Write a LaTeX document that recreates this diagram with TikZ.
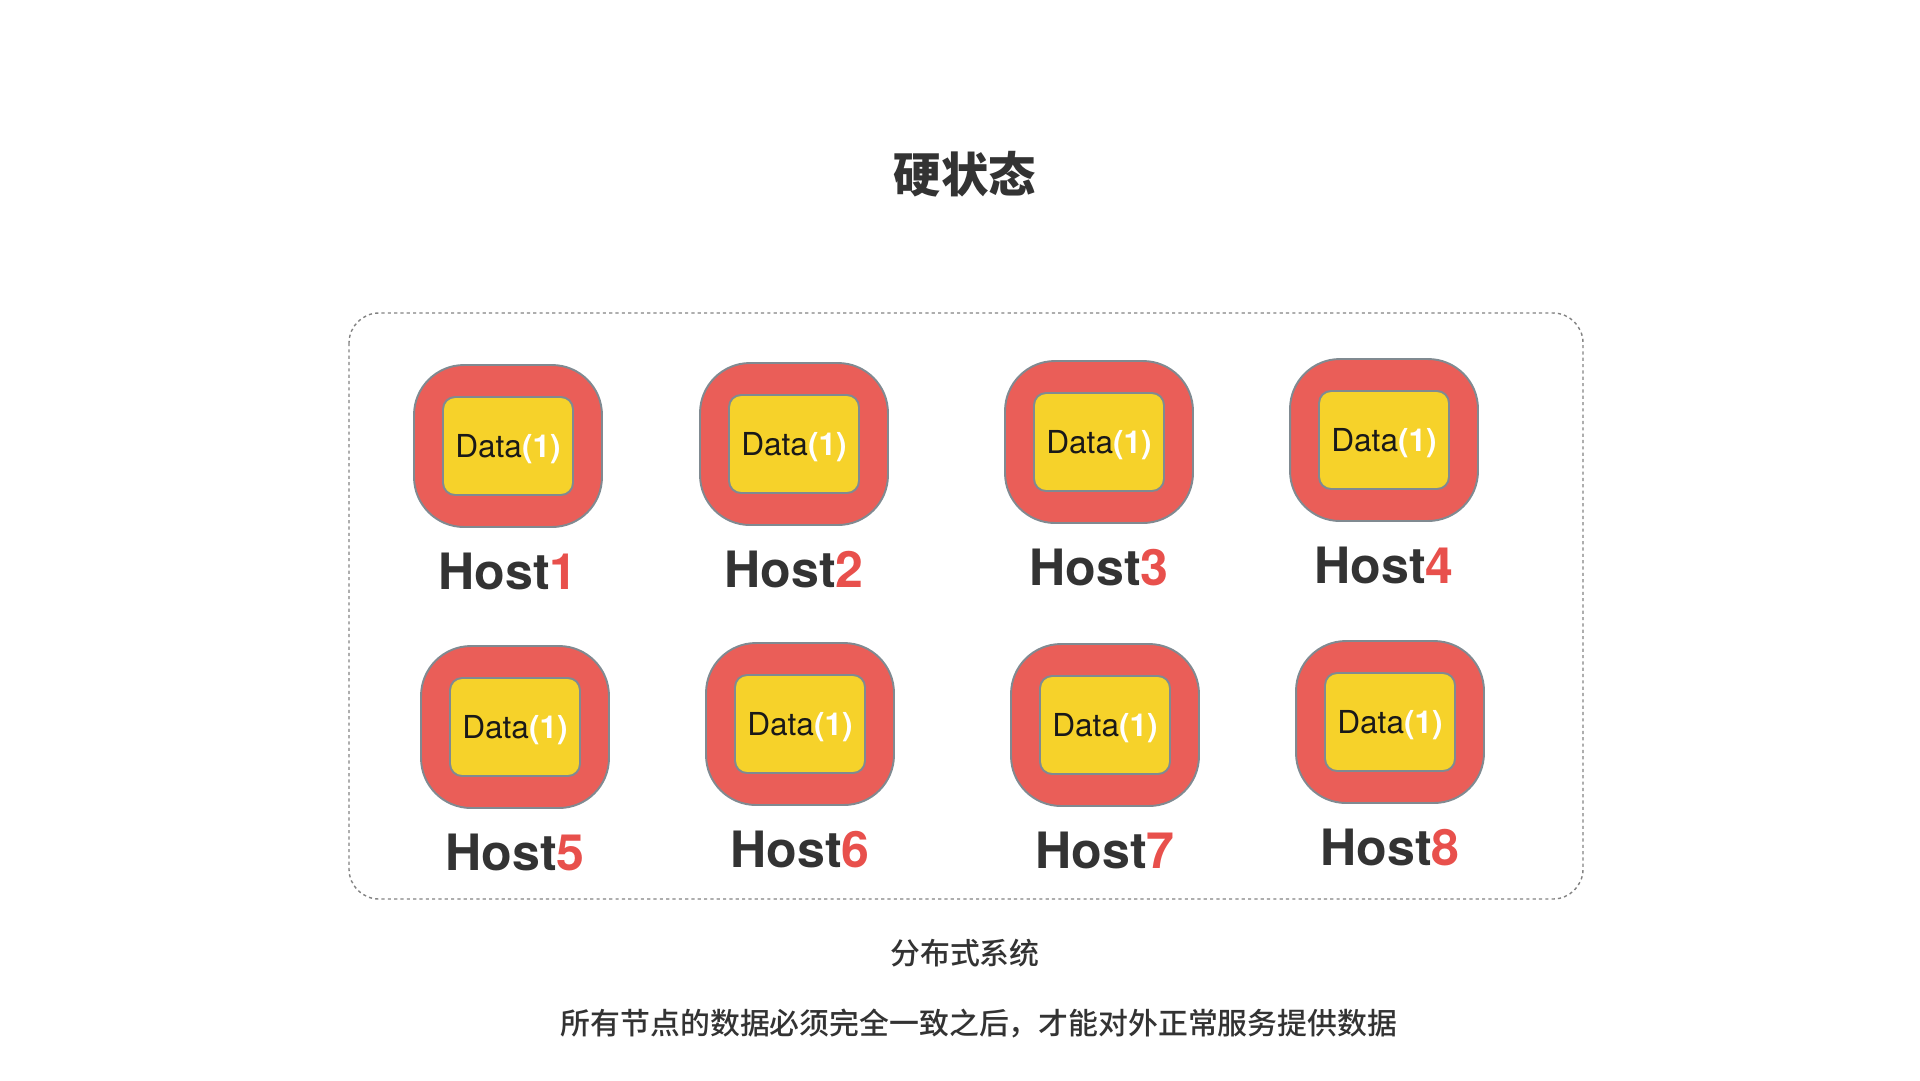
\documentclass[tikz,border=0pt]{standalone}
\usepackage{fontspec}
\setmainfont{TeX Gyre Heros}
\newfontfamily\cjk{Noto Sans CJK SC}
\newfontfamily\cjkmed{Noto Sans CJK SC Medium}
\usepackage{tikz}
\usetikzlibrary{positioning}

\definecolor{hostred}{RGB}{234,94,88}
\definecolor{datayellow}{RGB}{246,210,42}
\definecolor{edgegray}{RGB}{128,138,145}
\definecolor{darktext}{RGB}{51,51,51}
\definecolor{numred}{RGB}{232,80,76}
\definecolor{framegray}{RGB}{130,130,130}

\newcommand{\hnum}[1]{{\color{numred}#1}}
\newcommand{\dtext}{Data{\bfseries\color{white}(1)}}

\begin{document}
\begin{tikzpicture}[
    x=0.02cm, y=-0.02cm,
    node distance=0.5cm,
    host/.style={draw=edgegray, line width=1.1pt, fill=hostred, rounded corners=1.0cm,
                 minimum width=3.76cm, minimum height=3.24cm, inner sep=0pt},
    datbox/.style={draw=edgegray, line width=1.1pt, fill=datayellow, rounded corners=0.24cm,
                   minimum width=2.6cm, minimum height=1.96cm, inner sep=0pt, text depth=0pt,
                   font=\fontsize{18}{20}\selectfont, text=black!90},
    hostlab/.style={font=\fontsize{28.5}{32}\selectfont\bfseries, text=darktext, inner sep=0pt},
    title/.style={font=\cjk\bfseries\fontsize{27}{32}\selectfont, text=darktext},
    caption/.style={font=\cjkmed\fontsize{17}{20}\selectfont, text=darktext},
    frame/.style={draw=framegray, line width=0.8pt, dash pattern=on 1.8pt off 1.8pt,
                  rounded corners=0.6cm}
  ]
    \useasboundingbox (0,0) rectangle (1920,1080);
    \node[title] (title) at (965,174) {硬状态};
    \draw[frame] (349,313) rectangle (1583,899);
    % first row
    \node[host] (host1) at (508,446) {};
    \node[host] (host2) at (794,444) {};
    \node[host] (host3) at (1099,442) {};
    \node[host] (host4) at (1384,440) {};
    % second row
    \node[host] (host5) at (515,727) {};
    \node[host] (host6) at (800,724) {};
    \node[host] (host7) at (1105,725) {};
    \node[host] (host8) at (1390,722) {};
    \node[datbox] (data1) at (host1) {\dtext};
    \node[datbox] (data2) at (host2) {\dtext};
    \node[datbox] (data3) at (host3) {\dtext};
    \node[datbox] (data4) at (host4) {\dtext};
    \node[datbox] (data5) at (host5) {\dtext};
    \node[datbox] (data6) at (host6) {\dtext};
    \node[datbox] (data7) at (host7) {\dtext};
    \node[datbox] (data8) at (host8) {\dtext};
    \node[hostlab, below=of host1] (name1) {Host\hnum{1}};
    \node[hostlab, below=of host2] (name2) {Host\hnum{2}};
    \node[hostlab, below=of host3] (name3) {Host\hnum{3}};
    \node[hostlab, below=of host4] (name4) {Host\hnum{4}};
    \node[hostlab, below=of host5] (name5) {Host\hnum{5}};
    \node[hostlab, below=of host6] (name6) {Host\hnum{6}};
    \node[hostlab, below=of host7] (name7) {Host\hnum{7}};
    \node[hostlab, below=of host8] (name8) {Host\hnum{8}};
    \node[caption] (system) at (965,953) {分布式系统};
    \node[caption] (note) at (979,1024) {所有节点的数据必须完全一致之后，才能对外正常服务提供数据};
  \end{tikzpicture}
\end{document}
